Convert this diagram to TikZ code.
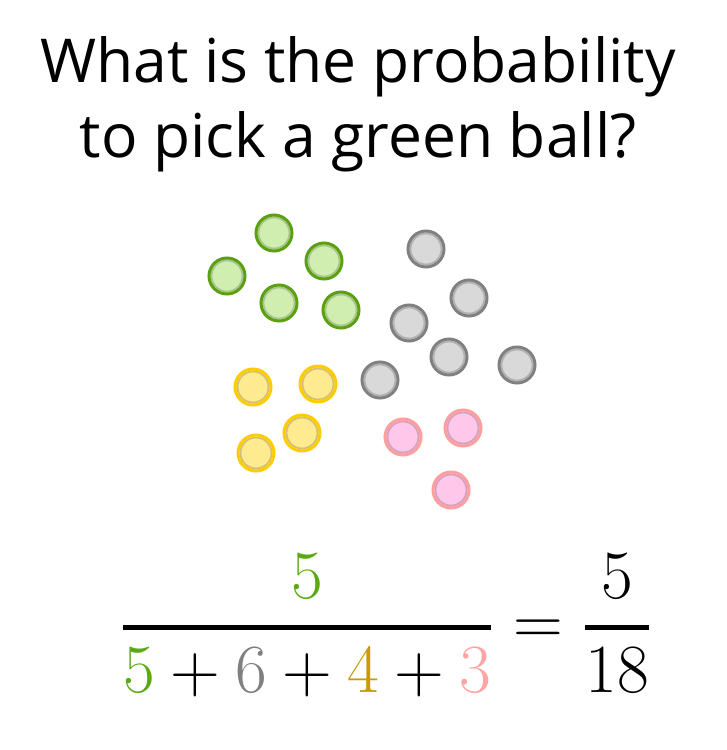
\documentclass[tikz,border=0pt]{standalone}
\usepackage{amsmath}
\usepackage{graphicx}
\usepackage{fontspec}
\setmainfont{Open Sans}
\definecolor{gfill}{HTML}{D0EEB0}
\definecolor{gline}{HTML}{5AA010}
\definecolor{afill}{HTML}{D9D9D9}
\definecolor{aline}{HTML}{808080}
\definecolor{yfill}{HTML}{FFEB8F}
\definecolor{yline}{HTML}{FFCC00}
\definecolor{pfill}{HTML}{FFC8EA}
\definecolor{pline}{HTML}{FF9E9E}
\definecolor{tgreen}{HTML}{5BA914}
\definecolor{tgray}{HTML}{808080}
\definecolor{tgold}{HTML}{C89B00}
\definecolor{tpink}{HTML}{FFA4A4}
\tikzset{
  ball/.style 2 args={circle, inner sep=0pt, minimum size=27pt, fill=#1, draw=#2, line width=2.25pt,
    path picture={\draw[black, opacity=0.18, line width=1.3pt] (path picture bounding box.center) circle (11.6pt);}},
  gball/.style={ball={gfill}{gline}},
  aball/.style={ball={afill}{aline}},
  yball/.style={ball={yfill}{yline}},
  pball/.style={ball={pfill}{pline}},
  title/.style={anchor=base, inner sep=0pt, font=\fontsize{45.4}{56}\selectfont}
}
\begin{document}
\begin{tikzpicture}[x=0.75pt,y=-0.75pt]
\useasboundingbox[fill=white] (0,0) rectangle (727,750);
\node[title] (t1) at (358,82) {What is the probability};
\node[title] (t2) at (358,157) {to pick a green ball?};
% green
\node[gball] (g1) at (274,233) {};
\node[gball] (g2) at (227,276) {};
\node[gball] (g3) at (324,261) {};
\node[gball] (g4) at (279,303) {};
\node[gball] (g5) at (341,310) {};
% gray
\node[aball] (a1) at (426,249) {};
\node[aball] (a2) at (469,298) {};
\node[aball] (a3) at (409,323) {};
\node[aball] (a4) at (449,357) {};
\node[aball] (a5) at (517,365) {};
\node[aball] (a6) at (380,380) {};
% yellow
\node[yball] (y1) at (253,387) {};
\node[yball] (y2) at (318,384) {};
\node[yball] (y3) at (302,433) {};
\node[yball] (y4) at (256,453) {};
% pink
\node[pball] (p1) at (403,437) {};
\node[pball] (p2) at (463,428) {};
\node[pball] (p3) at (451,490) {};
% formula
\node[inner sep=0pt, font=\fontsize{24.88}{30}\selectfont] (eq) at (386,625)
  {\scalebox{2.08}{$\displaystyle \genfrac{}{}{1.8pt}{0}{\textcolor{tgreen}{5}}{\textcolor{tgreen}{5}+\textcolor{tgray}{6}+\textcolor{tgold}{4}+\textcolor{tpink}{3}} = \genfrac{}{}{1.8pt}{0}{5}{18}$}};
\end{tikzpicture}
\end{document}
